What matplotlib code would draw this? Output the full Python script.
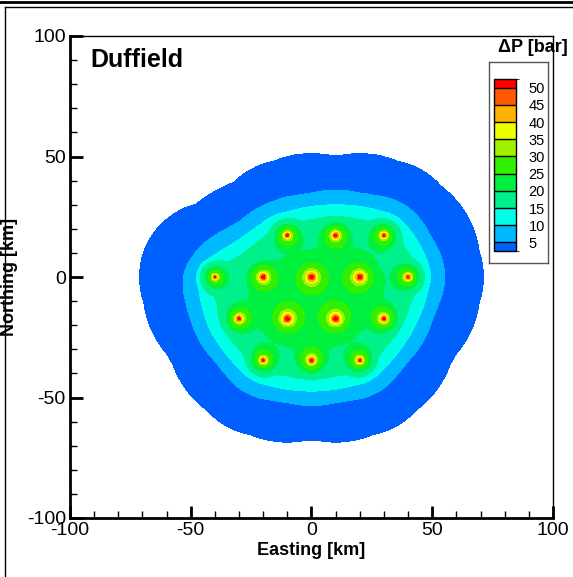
import numpy as np
import matplotlib
matplotlib.use("Agg")
from matplotlib import pyplot as plt
from matplotlib.colors import ListedColormap, BoundaryNorm
from matplotlib.colorbar import ColorbarBase
from matplotlib.lines import Line2D

plt.rcParams['font.family'] = ['Liberation Sans', 'DejaVu Sans']
plt.rcParams['axes.unicode_minus'] = False

# well locations (km)
well_x = [-10, 10, 30, -40, -20, 0, 20, 40, -30, -10, 10, 30, -20, 0, 20]
well_y = [17.3, 17.3, 17.3, 0, 0, 0, 0, 0, -17.3, -17.3, -17.3, -17.3, -34.6, -34.6, -34.6]
well_rate = [1.0] * 15

# contour levels and colours (bar)
levels = [0.2, 5, 10, 15, 20, 25, 30, 35, 40, 45, 50, 1000]
colors = ['#0060ff', '#00b8ff', '#00ffe6', '#00f08c', '#00f040', '#30f000',
          '#a0f000', '#eeff00', '#ffb000', '#ff5a00', '#ff0000']
legend_ticks = [5, 10, 15, 20, 25, 30, 35, 40, 45, 50]

# calibration of the summed well response to pressure (bar)
resp_knots = [0.0, 0.25, 1.65, 2.65, 3.7, 5.65, 7.3, 9.6, 11.0, 12.4, 14.0, 15.8, 40.0]
dp_knots = [0.0, 0.2, 5, 10, 15, 20, 25, 30, 35, 40, 45, 50, 80]

# summed response: far-field + near-field log terms per well
a_near, r_near = 3.0, 8.0
r_far = 40.0
x = np.linspace(-100, 100, 801)
y = np.linspace(-100, 100, 801)
X, Y = np.meshgrid(x, y)
S = np.zeros_like(X)
for wx, wy, q in zip(well_x, well_y, well_rate):
    r = np.maximum(np.hypot(X - wx, Y - wy), 0.02)
    S += q * (np.clip(np.log(r_far / r), 0, None)
              + a_near * np.clip(np.log(r_near / r), 0, None))
P = np.interp(S, resp_knots, dp_knots)

fig = plt.figure(figsize=(5.73, 5.77), dpi=100)
ax = fig.add_axes([70/573, 1 - 518/577, 483/573, 482/577])
ax.contourf(X, Y, P, levels=levels, colors=colors)
ax.set_xlim(-100, 100)
ax.set_ylim(-100, 100)

ax.set_xticks([-100, -50, 0, 50, 100])
ax.set_yticks([-100, -50, 0, 50, 100])
ax.set_xticks(np.arange(-100, 101, 10), minor=True)
ax.set_yticks(np.arange(-100, 101, 10), minor=True)
ax.tick_params(which='major', direction='in', length=9, width=2, labelsize=14, pad=3)
ax.tick_params(which='minor', direction='in', length=5, width=1)
ax.tick_params(top=False, right=False, which='both')
for s in ['left', 'bottom']:
    ax.spines[s].set_linewidth(2)
for s in ['top', 'right']:
    ax.spines[s].set_linewidth(1)

ax.set_xlabel("Easting [km]", fontsize=13, fontweight='bold', labelpad=2)
ax.set_ylabel("Northing [km]", fontsize=13, fontweight='bold', labelpad=6)
ax.text(0.042, 0.975, "Duffield", transform=ax.transAxes, fontsize=18,
        fontweight='bold', va='top', ha='left')
fig.text(568/573, 1 - 47/577, "ΔP [bar]", fontsize=13, fontweight='bold',
         ha='right', va='center')

# legend frame and colour boxes
lax = fig.add_axes([489/573, 1 - 263/577, 59/573, 201/577])
lax.set_xticks([])
lax.set_yticks([])
for s in lax.spines.values():
    s.set_color('#555555')
    s.set_linewidth(1)

cax = fig.add_axes([494/573, 1 - 251/577, 22/573, 172/577])
bounds = [2.5] + legend_ticks + [52.5]
cmap = ListedColormap(colors)
norm = BoundaryNorm(bounds, cmap.N)
cb = ColorbarBase(cax, cmap=cmap, norm=norm, boundaries=bounds, ticks=legend_ticks,
                  spacing='proportional', drawedges=True)
cb.outline.set_linewidth(1)
cb.dividers.set_linewidth(1)
cax.tick_params(length=0, labelsize=10.5, pad=9)

# outer frame
fig.add_artist(Line2D([0, 1], [1 - 1.5/577, 1 - 1.5/577], color='black', lw=2, transform=fig.transFigure))
fig.add_artist(Line2D([5/573, 1], [1 - 7/577, 1 - 7/577], color='black', lw=1, transform=fig.transFigure))
fig.add_artist(Line2D([5/573, 5/573], [0, 1 - 7/577], color='black', lw=1, transform=fig.transFigure))

fig.savefig("out.png", dpi=100)
